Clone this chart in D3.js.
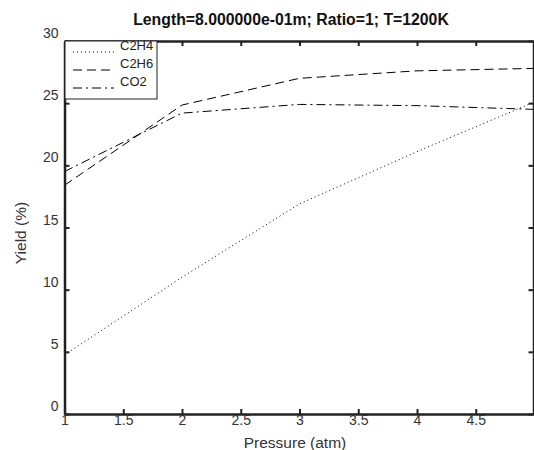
<!DOCTYPE html>
<html>
<head>
<meta charset="utf-8">
<script src="https://cdn.jsdelivr.net/npm/d3@7"></script>
<style>
  body { margin: 0; background: #fff; }
  svg { font-family: "Liberation Sans", Arial, sans-serif; }
</style>
</head>
<body>
<svg id="chart" width="534" height="450"></svg>
<script>
const pressure = [1, 2, 3, 4, 5];
const c2h4 = [4.75, 11.0, 16.9, 21.1, 25.1];
const c2h6 = [18.4, 24.85, 27.0, 27.6, 27.8];
const co2 = [19.5, 24.2, 24.9, 24.8, 24.5];
const seriesNames = ['C2H4', 'C2H6', 'CO2'];
const xTicks = [1, 1.5, 2, 2.5, 3, 3.5, 4, 4.5];
const yTicks = [0, 5, 10, 15, 20, 25, 30];

const svg = d3.select('#chart');
const plotLeft = 64.5, plotRight = 534.5, plotTop = 41, plotBottom = 414;

const x = d3.scaleLinear().domain([1, 5]).range([plotLeft, plotRight]);
const y = d3.scaleLinear().domain([0, 30]).range([plotBottom, plotTop]);

const dashes = ['1,3', '9,5', '9,4,2,4'];
const series = [c2h4, c2h6, co2];

// lines
const line = d3.line()
    .x((d, i) => x(pressure[i]))
    .y((d) => y(d));

svg.append('g')
    .selectAll('path')
    .data(series)
    .enter()
    .append('path')
    .attr('d', (d) => line(d))
    .attr('fill', 'none')
    .attr('stroke', '#000')
    .attr('stroke-width', 1)
    .attr('stroke-dasharray', (d, i) => dashes[i]);

// axes with inward ticks
const axisColor = '#222';
const tickLen = 5;
const fmt = d3.format('~g');

const xb = svg.append('g').attr('transform', `translate(0,${plotBottom})`)
    .call(d3.axisBottom(x).tickValues(xTicks).tickFormat(fmt).tickSizeInner(-tickLen).tickSizeOuter(0).tickPadding(3));
const xt = svg.append('g').attr('transform', `translate(0,${plotTop})`)
    .call(d3.axisTop(x).tickValues(xTicks).tickSizeInner(-tickLen).tickSizeOuter(0).tickFormat(''));
const yl = svg.append('g').attr('transform', `translate(${plotLeft},0)`)
    .call(d3.axisLeft(y).tickValues(yTicks).tickSizeInner(-tickLen).tickSizeOuter(0).tickPadding(6));
const yr = svg.append('g').attr('transform', `translate(${plotRight - 1},0)`)
    .call(d3.axisRight(y).tickValues(yTicks).tickSizeInner(-tickLen).tickSizeOuter(0).tickFormat(''));

[xb, xt, yl, yr].forEach((g) => {
    g.select('.domain').attr('stroke', axisColor).attr('stroke-width', 2.5);
    g.selectAll('.tick line').attr('stroke', axisColor).attr('stroke-width', 2);
    g.selectAll('.tick text')
        .attr('fill', '#333')
        .style('font-size', '14px')
        .style('font-family', '"Liberation Sans", Arial, sans-serif');
});
yl.selectAll('.tick text').attr('dy', '-0.25em');
xb.selectAll('.tick text').attr('dy', '0.55em');

// title and labels
svg.append('text')
    .attr('x', 291)
    .attr('y', 25)
    .attr('text-anchor', 'middle')
    .style('font-size', '15.8px')
    .style('font-weight', 'bold')
    .attr('fill', '#111')
    .text('Length=8.000000e-01m; Ratio=1; T=1200K');

svg.append('text')
    .attr('x', 295)
    .attr('y', 448)
    .attr('text-anchor', 'middle')
    .style('font-size', '15.5px')
    .attr('fill', '#333')
    .text('Pressure (atm)');

svg.append('text')
    .attr('transform', `translate(26,233) rotate(-90)`)
    .attr('text-anchor', 'middle')
    .style('font-size', '15.5px')
    .attr('fill', '#333')
    .text('Yield (%)');

// legend
const legend = svg.append('g');
legend.append('rect')
    .attr('x', plotLeft + 0.5)
    .attr('y', plotTop)
    .attr('width', 92)
    .attr('height', 58)
    .attr('fill', '#fff')
    .attr('stroke', '#222')
    .attr('stroke-width', 1);

const rows = legend.selectAll('.legend-row')
    .data(seriesNames)
    .enter()
    .append('g')
    .attr('class', 'legend-row')
    .attr('transform', (d, i) => `translate(0,${52 + i * 18})`);

rows.append('line')
    .attr('x1', 73)
    .attr('x2', 114)
    .attr('y1', 0)
    .attr('y2', 0)
    .attr('stroke', '#000')
    .attr('stroke-dasharray', (d, i) => dashes[i]);

rows.append('text')
    .attr('x', 120)
    .attr('y', -2)
    .style('font-size', '13px')
    .attr('fill', '#222')
    .text((d) => d);
</script>
</body>
</html>
